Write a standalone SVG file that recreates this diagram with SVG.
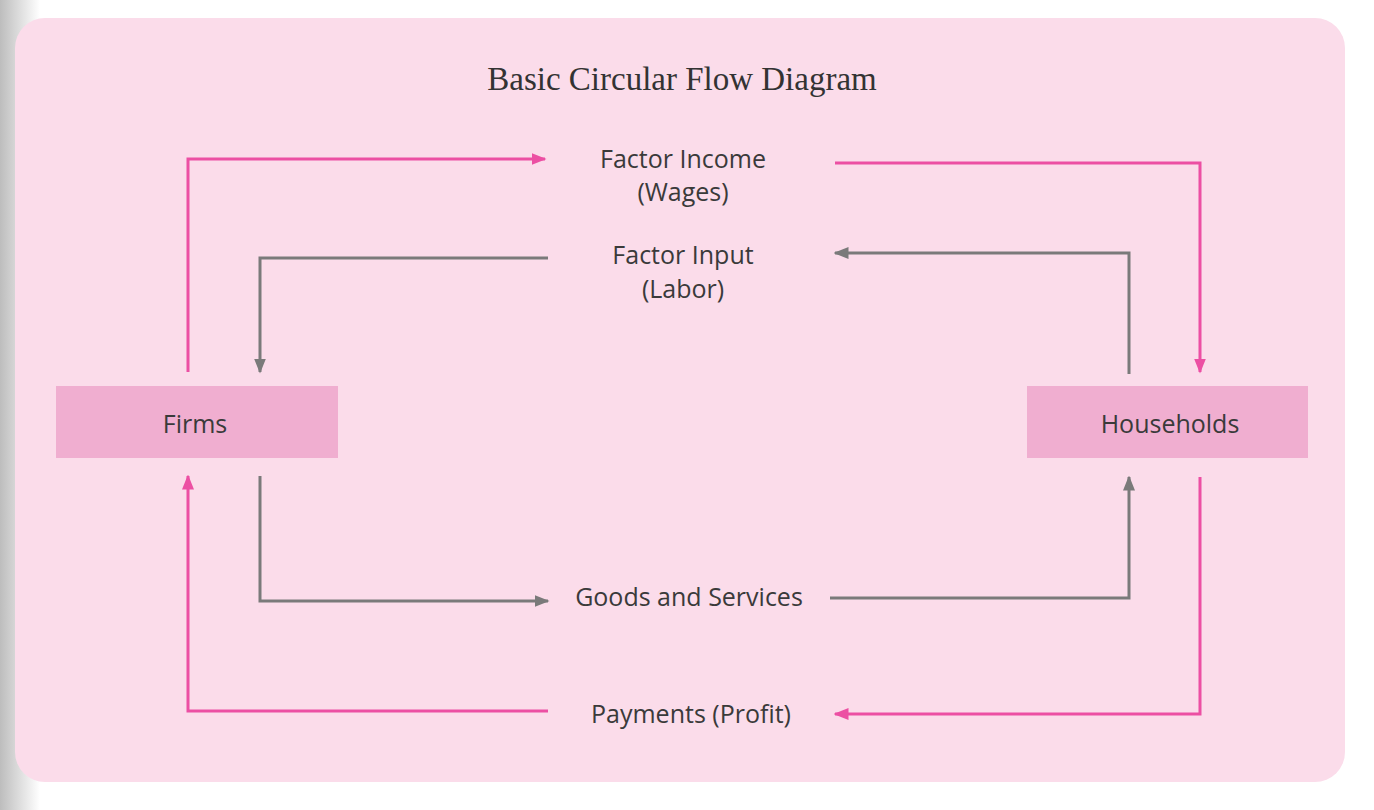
<svg xmlns="http://www.w3.org/2000/svg" width="1374" height="810" viewBox="0 0 1374 810">
<defs>
<linearGradient id="sh" x1="0" x2="1" y1="0" y2="0"><stop offset="0" stop-color="#bdbdbd"/><stop offset="1" stop-color="#ffffff"/></linearGradient>
<marker id="ap" viewBox="0 0 10 10" refX="9" refY="5" markerWidth="5" markerHeight="5" orient="auto" markerUnits="strokeWidth"><path d="M0,1 L10,5 L0,9 Z" fill="#ec4fa3"/></marker>
<marker id="ag" viewBox="0 0 10 10" refX="9" refY="5" markerWidth="5" markerHeight="5" orient="auto" markerUnits="strokeWidth"><path d="M0,1 L10,5 L0,9 Z" fill="#7a7a7a"/></marker>
</defs>
<style>
.p{fill:none;stroke:#ec4fa3;stroke-width:3;marker-end:url(#ap)}
.g{fill:none;stroke:#7a7a7a;stroke-width:3;marker-end:url(#ag)}
.box{fill:#f0aed0}
.t{font-family:"Open Sans","Liberation Sans",sans-serif;font-size:25px;fill:#3a3a3a;text-anchor:middle}
</style>
<rect width="1374" height="810" fill="#fff"/>
<rect x="0" y="0" width="40" height="810" fill="url(#sh)"/>
<rect x="15" y="18" width="1330" height="764" rx="30" fill="#fbdcea"/>
<text x="682" y="90" font-family="Liberation Serif,serif" font-size="33" fill="#333" text-anchor="middle">Basic Circular Flow Diagram</text>
<g id="firms"><rect class="box" x="56" y="386" width="282" height="72"/><text class="t" x="195" y="433">Firms</text></g>
<g id="households"><rect class="box" x="1027" y="386" width="281" height="72"/><text class="t" x="1170" y="433">Households</text></g>
<g id="labels">
<text class="t" x="683" y="168">Factor Income</text><text class="t" x="683" y="201">(Wages)</text>
<text class="t" x="683" y="264">Factor Input</text><text class="t" x="683" y="298">(Labor)</text>
<text class="t" x="689" y="606">Goods and Services</text>
<text class="t" x="691" y="723">Payments (Profit)</text>
</g>
<g id="connectors">
<path class="p" d="M188,372 V159 H545"/>
<path class="p" d="M835,163 H1200 V372"/>
<path class="g" d="M548,258 H260 V372"/>
<path class="g" d="M1129,374 V253 H835"/>
<path class="g" d="M260,476 V601 H548"/>
<path class="g" d="M830,598 H1129 V477"/>
<path class="p" d="M1200,477 V714 H835"/>
<path class="p" d="M548,711 H188 V476"/>
</g>
</svg>
